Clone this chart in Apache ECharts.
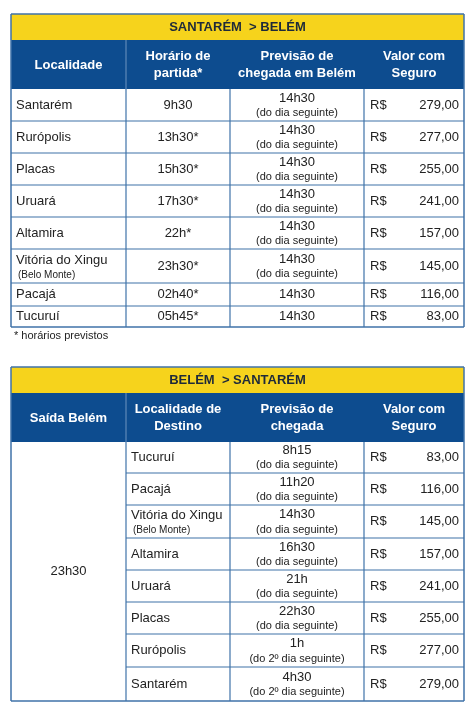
<!DOCTYPE html><html><head><meta charset="utf-8">
<script src="https://cdn.jsdelivr.net/npm/echarts@6/dist/echarts.min.js"></script>
<style>html,body{margin:0;padding:0;background:#fff}#c{width:474px;height:709px}</style></head><body><div id="c"></div>
<script>
const t1Title = 'SANTARÉM  > BELÉM';
const t1Head = ['Localidade', 'Horário de\npartida*', 'Previsão de\nchegada em Belém', 'Valor com\nSeguro'];
const t1Local = ['Santarém','Rurópolis','Placas','Uruará','Altamira','Vitória do Xingu','Pacajá','Tucuruí'];
const t1LocalSub = ['','','','','','(Belo Monte)','',''];
const t1Dep = ['9h30','13h30*','15h30*','17h30*','22h*','23h30*','02h40*','05h45*'];
const t1Arr = ['14h30','14h30','14h30','14h30','14h30','14h30','14h30','14h30'];
const t1ArrSub = ['(do dia seguinte)','(do dia seguinte)','(do dia seguinte)','(do dia seguinte)','(do dia seguinte)','(do dia seguinte)','',''];
const t1Price = ['279,00','277,00','255,00','241,00','157,00','145,00','116,00','83,00'];
const note = '* horários previstos';
const t2Title = 'BELÉM  > SANTARÉM';
const t2Head = ['Saída Belém', 'Localidade de\nDestino', 'Previsão de\nchegada', 'Valor com\nSeguro'];
const t2Dep = '23h30';
const t2Local = ['Tucuruí','Pacajá','Vitória do Xingu','Altamira','Uruará','Placas','Rurópolis','Santarém'];
const t2LocalSub = ['','','(Belo Monte)','','','','',''];
const t2Arr = ['8h15','11h20','14h30','16h30','21h','22h30','1h','4h30'];
const t2ArrSub = ['(do dia seguinte)','(do dia seguinte)','(do dia seguinte)','(do dia seguinte)','(do dia seguinte)','(do dia seguinte)','(do 2º dia seguinte)','(do 2º dia seguinte)'];
const t2Price = ['83,00','116,00','145,00','157,00','241,00','255,00','277,00','279,00'];

const YEL='#f6d31c', BLUE='#0d4c8f', LINE='#3f72a8', TXT='#222', F='"Liberation Sans", Arial, sans-serif';
const cols=[11,126,230,364,464];
const els=[];
function rect(x,y,w,h,fill){els.push({type:'rect',shape:{x,y,width:w,height:h},style:{fill}});}
function line(x1,y1,x2,y2,c,w){els.push({type:'line',shape:{x1,y1,x2,y2},style:{stroke:c||LINE,lineWidth:w||1.2}});}
function text(s,x,y,o){o=o||{};els.push({type:'text',x,y,style:{text:s,font:(o.bold?'bold ':'')+(o.size||13)+'px '+F,fill:o.fill||TXT,align:o.align||'left',verticalAlign:'middle',lineHeight:o.lh||16}});}
function table(top,title,head,rowsB,left){
  const yT=top, yH=top+26, yR=top+75;
  rect(cols[0],yT,cols[4]-cols[0],26,YEL);
  text(title,(cols[0]+cols[4])/2,yT+13,{bold:true,align:'center',size:13,fill:'#1e2a3a'});
  rect(cols[0],yH,cols[4]-cols[0],49,BLUE);
  head.forEach((h,i)=>text(h,(cols[i]+cols[i+1])/2,yH+25,{bold:true,align:'center',fill:'#fff',size:13,lh:17}));
  line(cols[1],yH,cols[1],yH+49,'#6f94c0',1);
  const yEnd=rowsB[rowsB.length-1];
  line(cols[0],yT,cols[4],yT,LINE,1.5);
  line(cols[0],yT,cols[0],yEnd,LINE,1.5);line(cols[4],yT,cols[4],yEnd,LINE,1.5);
  line(cols[0],yEnd,cols[4],yEnd,LINE,1.5);
  for(let c=1;c<4;c++) line(cols[c],yR,cols[c],yEnd);
  for(let r=1;r<rowsB.length-1;r++) line(left?cols[1]:cols[0],rowsB[r],cols[4],rowsB[r]);
}
const rb1=[89,121,153,185,217,249,283,306,327];
table(14,t1Title,t1Head,rb1,false);
t1Local.forEach((s,i)=>{const y0=rb1[i],y1=rb1[i+1],m=(y0+y1)/2;
  if(t1LocalSub[i]){text(s,16,m-6);text(t1LocalSub[i],18,m+9,{size:10});} else text(s,16,m);
  text(t1Dep[i],(cols[1]+cols[2])/2,m,{align:'center'});
  if(t1ArrSub[i]){text(t1Arr[i],(cols[2]+cols[3])/2,m-7,{align:'center'});text(t1ArrSub[i],(cols[2]+cols[3])/2,m+8,{align:'center',size:11});}
  else text(t1Arr[i],(cols[2]+cols[3])/2,m,{align:'center'});
  text('R$',370,m);text(t1Price[i],459,m,{align:'right'});
});
text(note,14,336,{size:11});
const rb2=[441,473,505,538,570,602,634,667,701];
table(367,t2Title,t2Head,rb2,true);
text(t2Dep,(cols[0]+cols[1])/2,571,{align:'center'});
t2Local.forEach((s,i)=>{const y0=rb2[i],y1=rb2[i+1],m=(y0+y1)/2;
  if(t2LocalSub[i]){text(s,131,m-6);text(t2LocalSub[i],133,m+9,{size:10});} else text(s,131,m);
  text(t2Arr[i],(cols[2]+cols[3])/2,m-7,{align:'center'});text(t2ArrSub[i],(cols[2]+cols[3])/2,m+8,{align:'center',size:11});
  text('R$',370,m);text(t2Price[i],459,m,{align:'right'});
});
const ch=echarts.init(document.getElementById('c'),null,{renderer:'canvas'});
ch.setOption({animation:false,graphic:{elements:els}});
</script></body></html>
